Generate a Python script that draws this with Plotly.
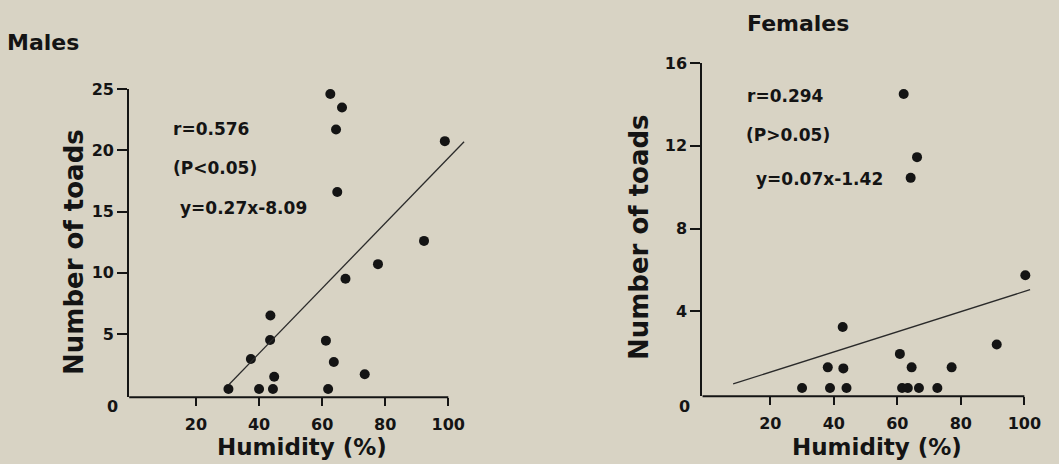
import plotly.graph_objects as go

# ---------------- data ----------------
male_humidity = [62.6, 66.3, 64.4, 64.8, 98.9, 92.3, 77.7, 67.4, 43.6, 43.5,
                 37.4, 44.8, 30.3, 40.0, 44.4, 61.2, 63.7, 73.5, 61.9]
male_toads = [24.6, 23.5, 21.7, 16.6, 20.75, 12.6, 10.7, 9.5, 6.5, 4.5,
              2.95, 1.5, 0.5, 0.5, 0.5, 4.45, 2.7, 1.7, 0.5]
male_fit_x = [30.4, 105.0]
male_fit_y = [0.85, 20.7]

female_humidity = [62.0, 66.2, 64.2, 100.3, 42.8, 91.3, 60.8, 38.1, 43.0, 64.5,
                   77.1, 30.0, 38.8, 44.0, 61.5, 63.3, 66.8, 72.6]
female_toads = [14.5, 11.45, 10.45, 5.75, 3.25, 2.4, 1.95, 1.3, 1.25, 1.3,
                1.3, 0.3, 0.3, 0.3, 0.3, 0.3, 0.3, 0.3]
female_fit_x = [8.3, 101.8]
female_fit_y = [0.5, 5.05]

x_ticks = [20, 40, 60, 80, 100]
male_y_ticks = [5, 10, 15, 20, 25]
female_y_ticks = [4, 8, 12, 16]
origin_label = "0"

male_stats = ["r=0.576", "(P<0.05)", "y=0.27x-8.09"]
female_stats = ["r=0.294", "(P>0.05)", "y=0.07x-1.42"]

# ---------------- styling ----------------
W, H = 1059, 464
BG = "#d8d3c4"
INK = "#141414"
FONT = "DejaVu Sans"


def px(x):
    return x / W


def py(y):
    return 1 - y / H


fig = go.Figure()

fig.add_trace(go.Scatter(x=male_humidity, y=male_toads, mode="markers",
                         marker=dict(size=10, color=INK), cliponaxis=False,
                         xaxis="x", yaxis="y", showlegend=False))
fig.add_trace(go.Scatter(x=male_fit_x, y=male_fit_y, mode="lines",
                         line=dict(color="#2a2a2a", width=1.3),
                         xaxis="x", yaxis="y", showlegend=False))
fig.add_trace(go.Scatter(x=female_humidity, y=female_toads, mode="markers",
                         marker=dict(size=10, color=INK), cliponaxis=False,
                         xaxis="x2", yaxis="y2", showlegend=False))
fig.add_trace(go.Scatter(x=female_fit_x, y=female_fit_y, mode="lines",
                         line=dict(color="#2a2a2a", width=1.3),
                         xaxis="x2", yaxis="y2", showlegend=False))

tickfont = dict(family=FONT, size=16, color=INK, weight="bold")
common_x = dict(tickmode="array", tickvals=x_ticks, ticks="outside", ticklen=8,
                tickwidth=2, tickcolor=INK, showgrid=False, zeroline=False,
                showline=False, tickfont=tickfont, ticklabelstandoff=4)
common_y = dict(tickmode="array", ticks="outside", ticklen=10, tickwidth=2,
                tickcolor=INK, showgrid=False, zeroline=False, showline=True,
                linecolor=INK, linewidth=2, tickfont=tickfont)

male_xr = [-1.2, 106]
male_yr = [-0.18, 25]
female_xr = [-1.4, 104]
female_yr = [-0.1, 16]

male_dom_y = [py(396), py(81.7)]
female_dom_y = [py(395), py(55)]

fig.update_layout(
    width=W, height=H,
    margin=dict(l=0, r=0, t=0, b=0),
    paper_bgcolor=BG, plot_bgcolor=BG,
    xaxis=dict(domain=[px(129.6), px(469)], range=male_xr, anchor="y", **common_x),
    yaxis=dict(domain=male_dom_y, range=male_yr, anchor="x",
               tickvals=male_y_ticks, **common_y),
    xaxis2=dict(domain=[px(705), px(1041)], range=female_xr, anchor="y2", **common_x),
    yaxis2=dict(domain=female_dom_y, range=female_yr, anchor="x2",
                tickvals=female_y_ticks, **common_y),
)

# x-axis lines that stop at 100 % (paper y so they are not clipped)
fig.add_shape(type="line", xref="x", yref="paper", x0=male_xr[0], x1=100,
              y0=male_dom_y[0], y1=male_dom_y[0], line=dict(color=INK, width=2))
fig.add_shape(type="line", xref="x2", yref="paper", x0=female_xr[0], x1=100,
              y0=female_dom_y[0], y1=female_dom_y[0], line=dict(color=INK, width=2))

annos = []
# panel titles
annos.append(dict(text="Males", x=px(5), y=py(34), xanchor="left", yanchor="middle",
                  font=dict(family=FONT, size=22, color=INK, weight="bold")))
annos.append(dict(text="Females", x=px(748), y=py(15), xanchor="left", yanchor="middle",
                  font=dict(family=FONT, size=22, color=INK, weight="bold")))
# origin labels (sit below the axis corner in the original)
annos.append(dict(text=origin_label, x=px(113), y=py(405), xanchor="center",
                  yanchor="middle", font=tickfont))
annos.append(dict(text=origin_label, x=px(687), y=py(405), xanchor="center",
                  yanchor="middle", font=tickfont))
# axis titles
title_font = dict(family=FONT, size=23, color=INK, weight="bold")
ytitle_font = dict(family=FONT, size=26, color=INK, weight="bold")
annos.append(dict(text="Humidity (%)", x=px(303), y=py(447), xanchor="center",
                  yanchor="middle", font=title_font))
annos.append(dict(text="Humidity (%)", x=px(880), y=py(447), xanchor="center",
                  yanchor="middle", font=title_font))
annos.append(dict(text="Number of toads", x=px(74), y=py(248), xanchor="center",
                  yanchor="middle", textangle=-90, font=ytitle_font))
annos.append(dict(text="Number of toads", x=px(642), y=py(233), xanchor="center",
                  yanchor="middle", textangle=-90, font=ytitle_font))
# statistics text
stat_font = dict(family=FONT, size=17, color=INK, weight="bold")
for txt, (lx, ly) in zip(male_stats, [(171.7, 122.7), (171.7, 161.7), (178.3, 203.3)]):
    annos.append(dict(text=txt, x=px(lx), y=py(ly), xanchor="left", yanchor="middle",
                      font=stat_font))
for txt, (lx, ly) in zip(female_stats, [(748.3, 88.3), (747.3, 128.3), (756.7, 173.3)]):
    annos.append(dict(text=txt, x=px(lx), y=py(ly), xanchor="left", yanchor="middle",
                      font=stat_font))

for a in annos:
    a.update(xref="paper", yref="paper", showarrow=False)
fig.update_layout(annotations=annos)

fig.write_html(
    "out.html",
    config={"displayModeBar": False},
    post_script="document.body.style.margin='0';document.body.style.overflow='hidden';",
)
